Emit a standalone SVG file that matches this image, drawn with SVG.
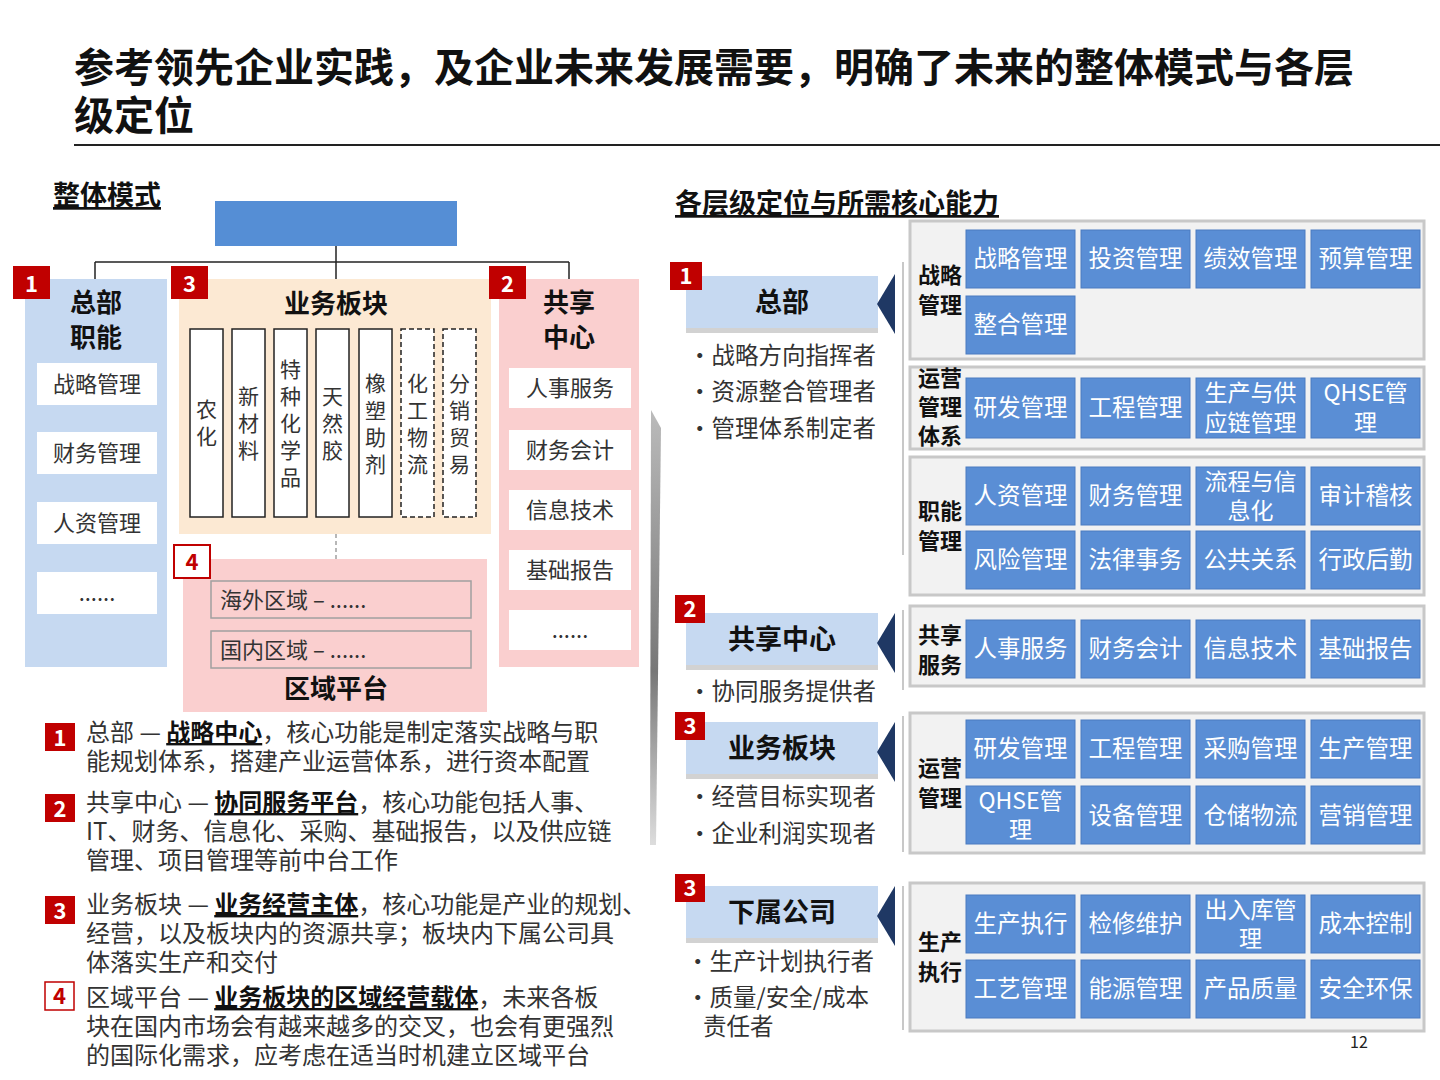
<svg xmlns="http://www.w3.org/2000/svg" width="1440" height="1080" viewBox="0 0 1440 1080">
<defs>
<style>
text{font-family:"Noto Sans CJK SC","Noto Sans",sans-serif;fill:#222}
.b{font-weight:bold}
.ttl{font-size:40px;font-weight:bold;fill:#111}
.sec{font-size:27px;font-weight:bold;text-decoration:underline;fill:#111}
.hd{font-size:26px;font-weight:bold;text-anchor:middle;fill:#111}
.wb{fill:#fff}
.it{font-size:22px;text-anchor:middle;fill:#333}
.col{fill:#fff;stroke:#222;stroke-width:1.5}
.dcol{fill:#fff;stroke:#222;stroke-width:1.5;stroke-dasharray:5 3}
.vc{font-size:21px;text-anchor:middle;fill:#333}
.badge{fill:#C00000}
.bn{font-size:22px;font-weight:bold;fill:#fff;text-anchor:middle}
.bnr{font-size:22px;font-weight:bold;fill:#C00000;text-anchor:middle}
.desc{font-size:24px;fill:#333}
.lv{fill:#C6D9F1}
.lvs{fill:#A6A6A6;opacity:0.5}
.lvt{font-size:27px;font-weight:bold;text-anchor:middle;fill:#111}
.bul{font-size:23.5px;fill:#333}
.grp{fill:#F2F2F2;stroke:#C8C8C8;stroke-width:3}
.cell{fill:#5A8ED5;stroke:#4A7BC0;stroke-width:1}
.ct{font-size:23.5px;fill:#fff;text-anchor:middle}
.ct2{font-size:23px;fill:#fff;text-anchor:middle}
.gl{font-size:22px;font-weight:bold;text-anchor:middle;fill:#111}
.chev{fill:#1F3864}
.conn{stroke:#222;stroke-width:1.5;fill:none}
</style>
<linearGradient id="wedge" x1="0" y1="0" x2="0" y2="1"><stop offset="0" stop-color="#bbb"/><stop offset="0.6" stop-color="#777"/><stop offset="1" stop-color="#ddd"/></linearGradient>
</defs>
<rect width="1440" height="1080" fill="#fff"/>
<g id="title">
<text class="ttl" x="74" y="82">参考领先企业实践，及企业未来发展需要，明确了未来的整体模式与各层</text>
<text class="ttl" x="74" y="130">级定位</text>
<line x1="74" y1="145" x2="1440" y2="145" stroke="#222" stroke-width="2"/>
</g>
<text class="sec" x="53" y="205">整体模式</text>
<text class="sec" x="675" y="213">各层级定位与所需核心能力</text>

<g id="connectors">
<line class="conn" x1="336" y1="246" x2="336" y2="262"/>
<line class="conn" x1="95" y1="262" x2="569" y2="262"/>
<line class="conn" x1="95" y1="262" x2="95" y2="279"/>
<line class="conn" x1="336" y1="262" x2="336" y2="279"/>
<line class="conn" x1="569" y1="262" x2="569" y2="279"/>
<line x1="336" y1="534" x2="336" y2="560" stroke="#888" stroke-width="1.2" stroke-dasharray="4 3"/>
</g>

<g id="top"><rect x="215" y="201" width="242" height="45" fill="#558ED5"/></g>

<g id="hq">
<rect x="25" y="279" width="142" height="388" fill="#C6D9F1"/>
<rect class="badge" x="13" y="266" width="37" height="33"/><text class="bn" x="31.5" y="292">1</text>
<text class="hd" x="96" y="312">总部</text><text class="hd" x="96" y="347">职能</text>
<rect class="wb" x="37" y="363" width="120" height="42"/><text class="it" x="97" y="392">战略管理</text>
<rect class="wb" x="37" y="432" width="120" height="42"/><text class="it" x="97" y="461">财务管理</text>
<rect class="wb" x="37" y="502" width="120" height="42"/><text class="it" x="97" y="531">人资管理</text>
<rect class="wb" x="37" y="572" width="120" height="42"/><text class="it" x="97" y="601">......</text>
</g>

<g id="biz">
<rect x="179" y="279" width="312" height="255" fill="#FCE9D3"/>
<rect class="badge" x="171" y="266" width="37" height="33"/><text class="bn" x="189.5" y="292">3</text>
<text class="hd" x="336" y="313">业务板块</text>
<rect class="col" x="190" y="329" width="33" height="188"/>
<text class="vc" x="206.5" y="417">农</text><text class="vc" x="206.5" y="444">化</text>
<rect class="col" x="232" y="329" width="33" height="188"/>
<text class="vc" x="248.5" y="404">新</text><text class="vc" x="248.5" y="431">材</text><text class="vc" x="248.5" y="458">料</text>
<rect class="col" x="274" y="329" width="33" height="188"/>
<text class="vc" x="290.5" y="377">特</text><text class="vc" x="290.5" y="404">种</text><text class="vc" x="290.5" y="431">化</text><text class="vc" x="290.5" y="458">学</text><text class="vc" x="290.5" y="485">品</text>
<rect class="col" x="316" y="329" width="33" height="188"/>
<text class="vc" x="332.5" y="404">天</text><text class="vc" x="332.5" y="431">然</text><text class="vc" x="332.5" y="458">胶</text>
<rect class="col" x="359" y="329" width="33" height="188"/>
<text class="vc" x="375.5" y="391">橡</text><text class="vc" x="375.5" y="418">塑</text><text class="vc" x="375.5" y="445">助</text><text class="vc" x="375.5" y="472">剂</text>
<rect class="dcol" x="401" y="329" width="33" height="188"/>
<text class="vc" x="417.5" y="391">化</text><text class="vc" x="417.5" y="418">工</text><text class="vc" x="417.5" y="445">物</text><text class="vc" x="417.5" y="472">流</text>
<rect class="dcol" x="443" y="329" width="33" height="188"/>
<text class="vc" x="459.5" y="391">分</text><text class="vc" x="459.5" y="418">销</text><text class="vc" x="459.5" y="445">贸</text><text class="vc" x="459.5" y="472">易</text>
</g>

<g id="region">
<rect x="183" y="559" width="304" height="153" fill="#FACFCF"/>
<rect x="174" y="545" width="36" height="33" fill="#fff" stroke="#C00000" stroke-width="2"/><text class="bnr" x="192" y="570">4</text>
<rect x="211" y="581" width="260" height="37" fill="#FACFCF" stroke="#A0A0A0" stroke-width="1.5"/>
<text class="it" x="220" y="608" style="text-anchor:start">海外区域 – ......</text>
<rect x="211" y="631" width="260" height="37" fill="#FACFCF" stroke="#A0A0A0" stroke-width="1.5"/>
<text class="it" x="220" y="658" style="text-anchor:start">国内区域 – ......</text>
<text class="hd" x="336" y="698">区域平台</text>
</g>

<g id="shared">
<rect x="499" y="279" width="140" height="388" fill="#FACFCF"/>
<rect class="badge" x="489" y="266" width="37" height="33"/><text class="bn" x="507.5" y="292">2</text>
<text class="hd" x="569" y="312">共享</text><text class="hd" x="569" y="347">中心</text>
<rect class="wb" x="509" y="368" width="122" height="40"/><text class="it" x="570" y="396">人事服务</text>
<rect class="wb" x="509" y="430" width="122" height="40"/><text class="it" x="570" y="458">财务会计</text>
<rect class="wb" x="509" y="490" width="122" height="40"/><text class="it" x="570" y="518">信息技术</text>
<rect class="wb" x="509" y="550" width="122" height="40"/><text class="it" x="570" y="578">基础报告</text>
<rect class="wb" x="509" y="610" width="122" height="40"/><text class="it" x="570" y="638">......</text>
</g>

<polygon points="651,410 661,428 656,845 650,845" fill="url(#wedge)"/>

<g id="notes">
<rect class="badge" x="45" y="723" width="30" height="28"/><text class="bn" x="60" y="746">1</text>
<text class="desc" x="86" y="741">总部 —  <tspan class="b" text-decoration="underline" fill="#111">战略中心</tspan>，核心功能是制定落实战略与职</text>
<text class="desc" x="86" y="770">能规划体系，搭建产业运营体系，进行资本配置</text>
<rect class="badge" x="45" y="794" width="30" height="28"/><text class="bn" x="60" y="817">2</text>
<text class="desc" x="86" y="811">共享中心 — <tspan class="b" text-decoration="underline" fill="#111">协同服务平台</tspan>，核心功能包括人事、</text>
<text class="desc" x="86" y="840">IT、财务、信息化、采购、基础报告，以及供应链</text>
<text class="desc" x="86" y="869">管理、项目管理等前中台工作</text>
<rect class="badge" x="45" y="896" width="30" height="28"/><text class="bn" x="60" y="919">3</text>
<text class="desc" x="86" y="913">业务板块 — <tspan class="b" text-decoration="underline" fill="#111">业务经营主体</tspan>，核心功能是产业的规划、</text>
<text class="desc" x="86" y="942">经营，以及板块内的资源共享；板块内下属公司具</text>
<text class="desc" x="86" y="971">体落实生产和交付</text>
<rect x="45" y="982" width="29" height="28" fill="#fff" stroke="#C00000" stroke-width="1.5"/><text class="bnr" x="59.5" y="1004">4</text>
<text class="desc" x="86" y="1006">区域平台 — <tspan class="b" text-decoration="underline" fill="#111">业务板块的区域经营载体</tspan>，未来各板</text>
<text class="desc" x="86" y="1035">块在国内市场会有越来越多的交叉，也会有更强烈</text>
<text class="desc" x="86" y="1064">的国际化需求，应考虑在适当时机建立区域平台</text>
</g>

<g id="lv-hq">
<rect class="lvs" x="686" y="328" width="192" height="5"/>
<rect class="lv" x="686" y="276" width="192" height="52"/>
<rect class="badge" x="670" y="262" width="32" height="28"/><text class="bn" x="686" y="284">1</text>
<text class="lvt" x="782" y="312">总部</text>
<polygon class="chev" points="895,274 895,334 877,304"/>
<line x1="903" y1="262" x2="903" y2="555" stroke="#C8C8C8" stroke-width="2"/>
<text class="bul" x="688" y="364">•战略方向指挥者</text>
<text class="bul" x="688" y="400">•资源整合管理者</text>
<text class="bul" x="688" y="437">•管理体系制定者</text>
</g>
<g id="lv-shared">
<rect class="lvs" x="686" y="665" width="192" height="5"/>
<rect class="lv" x="686" y="613" width="192" height="52"/>
<rect class="badge" x="675" y="595" width="30" height="28"/><text class="bn" x="690" y="617">2</text>
<text class="lvt" x="782" y="649">共享中心</text>
<polygon class="chev" points="895,613 895,673 877,643"/>
<line x1="903" y1="610" x2="903" y2="690" stroke="#C8C8C8" stroke-width="2"/>
<text class="bul" x="688" y="700">•协同服务提供者</text>
</g>
<g id="lv-biz">
<rect class="lvs" x="686" y="774" width="192" height="5"/>
<rect class="lv" x="686" y="722" width="192" height="52"/>
<rect class="badge" x="675" y="712" width="30" height="28"/><text class="bn" x="690" y="734">3</text>
<text class="lvt" x="782" y="758">业务板块</text>
<polygon class="chev" points="895,722 895,782 877,752"/>
<line x1="903" y1="716" x2="903" y2="852" stroke="#C8C8C8" stroke-width="2"/>
<text class="bul" x="688" y="805">•经营目标实现者</text>
<text class="bul" x="688" y="842">•企业利润实现者</text>
</g>
<g id="lv-sub">
<rect class="lvs" x="686" y="938" width="192" height="5"/>
<rect class="lv" x="686" y="886" width="192" height="52"/>
<rect class="badge" x="675" y="874" width="30" height="28"/><text class="bn" x="690" y="896">3</text>
<text class="lvt" x="782" y="922">下属公司</text>
<polygon class="chev" points="895,886 895,946 877,916"/>
<line x1="903" y1="886" x2="903" y2="1030" stroke="#C8C8C8" stroke-width="2"/>
<text class="bul" x="686" y="970">•生产计划执行者</text>
<text class="bul" x="686" y="1006">•质量/安全/成本</text>
<text class="bul" x="703" y="1035">责任者</text>
</g>

<g id="g-strategy">
<rect class="grp" x="910" y="221" width="514" height="138"/>
<text class="gl" x="940" y="283">战略</text><text class="gl" x="940" y="313">管理</text>
<rect class="cell" x="966" y="230" width="109" height="58"/><text class="ct" x="1020.5" y="267">战略管理</text>
<rect class="cell" x="1081" y="230" width="109" height="58"/><text class="ct" x="1135.5" y="267">投资管理</text>
<rect class="cell" x="1196" y="230" width="109" height="58"/><text class="ct" x="1250.5" y="267">绩效管理</text>
<rect class="cell" x="1311" y="230" width="109" height="58"/><text class="ct" x="1365.5" y="267">预算管理</text>
<rect class="cell" x="966" y="296" width="109" height="58"/><text class="ct" x="1020.5" y="333">整合管理</text>
</g>
<g id="g-ops">
<rect class="grp" x="910" y="367" width="514" height="82"/>
<text class="gl" x="940" y="386">运营</text><text class="gl" x="940" y="415">管理</text><text class="gl" x="940" y="444">体系</text>
<rect class="cell" x="966" y="378" width="109" height="60"/><text class="ct" x="1020.5" y="416">研发管理</text>
<rect class="cell" x="1081" y="378" width="109" height="60"/><text class="ct" x="1135.5" y="416">工程管理</text>
<rect class="cell" x="1196" y="378" width="109" height="60"/><text class="ct2" x="1250.5" y="401">生产与供</text><text class="ct2" x="1250.5" y="431">应链管理</text>
<rect class="cell" x="1311" y="378" width="109" height="60"/><text class="ct2" x="1365.5" y="401">QHSE管</text><text class="ct2" x="1365.5" y="431">理</text>
</g>
<g id="g-func">
<rect class="grp" x="910" y="457" width="514" height="138"/>
<text class="gl" x="940" y="519">职能</text><text class="gl" x="940" y="549">管理</text>
<rect class="cell" x="966" y="467" width="109" height="58"/><text class="ct" x="1020.5" y="504">人资管理</text>
<rect class="cell" x="1081" y="467" width="109" height="58"/><text class="ct" x="1135.5" y="504">财务管理</text>
<rect class="cell" x="1196" y="467" width="109" height="58"/><text class="ct2" x="1250.5" y="490">流程与信</text><text class="ct2" x="1250.5" y="519">息化</text>
<rect class="cell" x="1311" y="467" width="109" height="58"/><text class="ct" x="1365.5" y="504">审计稽核</text>
<rect class="cell" x="966" y="531" width="109" height="58"/><text class="ct" x="1020.5" y="568">风险管理</text>
<rect class="cell" x="1081" y="531" width="109" height="58"/><text class="ct" x="1135.5" y="568">法律事务</text>
<rect class="cell" x="1196" y="531" width="109" height="58"/><text class="ct" x="1250.5" y="568">公共关系</text>
<rect class="cell" x="1311" y="531" width="109" height="58"/><text class="ct" x="1365.5" y="568">行政后勤</text>
</g>
<g id="g-share">
<rect class="grp" x="910" y="606" width="514" height="80"/>
<text class="gl" x="940" y="643">共享</text><text class="gl" x="940" y="673">服务</text>
<rect class="cell" x="966" y="620" width="109" height="58"/><text class="ct" x="1020.5" y="657">人事服务</text>
<rect class="cell" x="1081" y="620" width="109" height="58"/><text class="ct" x="1135.5" y="657">财务会计</text>
<rect class="cell" x="1196" y="620" width="109" height="58"/><text class="ct" x="1250.5" y="657">信息技术</text>
<rect class="cell" x="1311" y="620" width="109" height="58"/><text class="ct" x="1365.5" y="657">基础报告</text>
</g>
<g id="g-bizops">
<rect class="grp" x="910" y="713" width="514" height="140"/>
<text class="gl" x="940" y="776">运营</text><text class="gl" x="940" y="806">管理</text>
<rect class="cell" x="966" y="720" width="109" height="58"/><text class="ct" x="1020.5" y="757">研发管理</text>
<rect class="cell" x="1081" y="720" width="109" height="58"/><text class="ct" x="1135.5" y="757">工程管理</text>
<rect class="cell" x="1196" y="720" width="109" height="58"/><text class="ct" x="1250.5" y="757">采购管理</text>
<rect class="cell" x="1311" y="720" width="109" height="58"/><text class="ct" x="1365.5" y="757">生产管理</text>
<rect class="cell" x="966" y="786" width="109" height="58"/><text class="ct2" x="1020.5" y="809">QHSE管</text><text class="ct2" x="1020.5" y="838">理</text>
<rect class="cell" x="1081" y="786" width="109" height="58"/><text class="ct" x="1135.5" y="824">设备管理</text>
<rect class="cell" x="1196" y="786" width="109" height="58"/><text class="ct" x="1250.5" y="824">仓储物流</text>
<rect class="cell" x="1311" y="786" width="109" height="58"/><text class="ct" x="1365.5" y="824">营销管理</text>
</g>
<g id="g-prod">
<rect class="grp" x="910" y="883" width="514" height="148"/>
<text class="gl" x="940" y="950">生产</text><text class="gl" x="940" y="980">执行</text>
<rect class="cell" x="966" y="895" width="109" height="58"/><text class="ct" x="1020.5" y="932">生产执行</text>
<rect class="cell" x="1081" y="895" width="109" height="58"/><text class="ct" x="1135.5" y="932">检修维护</text>
<rect class="cell" x="1196" y="895" width="109" height="58"/><text class="ct2" x="1250.5" y="918">出入库管</text><text class="ct2" x="1250.5" y="947">理</text>
<rect class="cell" x="1311" y="895" width="109" height="58"/><text class="ct" x="1365.5" y="932">成本控制</text>
<rect class="cell" x="966" y="960" width="109" height="58"/><text class="ct" x="1020.5" y="997">工艺管理</text>
<rect class="cell" x="1081" y="960" width="109" height="58"/><text class="ct" x="1135.5" y="997">能源管理</text>
<rect class="cell" x="1196" y="960" width="109" height="58"/><text class="ct" x="1250.5" y="997">产品质量</text>
<rect class="cell" x="1311" y="960" width="109" height="58"/><text class="ct" x="1365.5" y="997">安全环保</text>
</g>
<text x="1359" y="1048" font-size="16" fill="#999" text-anchor="middle">12</text>
</svg>
